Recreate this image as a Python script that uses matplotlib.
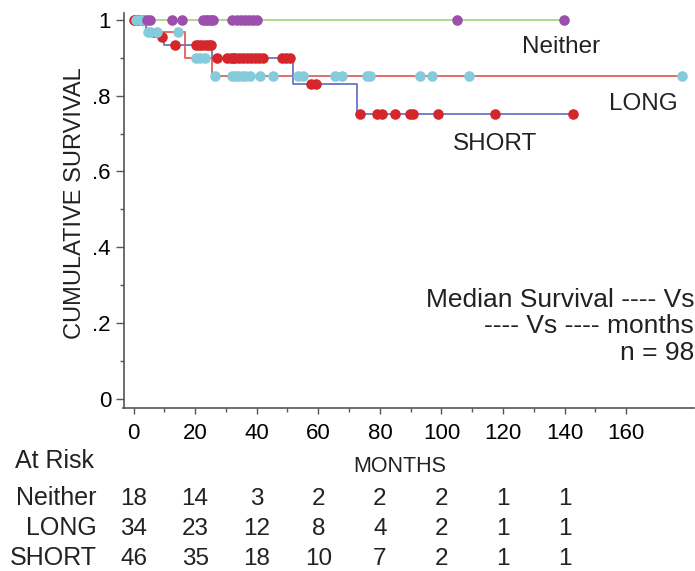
import numpy as np
import matplotlib.pyplot as plt
import matplotlib.transforms as mtransforms

plt.rcParams['font.family'] = ['Liberation Sans', 'DejaVu Sans']

# step curves (months, survival)
neither_t = [0, 139.8]
neither_s = [1.0, 1.0]
long_t = [0, 4.1, 16.8, 25.5, 178.1]
long_s = [1.0, 0.968, 0.899, 0.851, 0.851]
short_t = [0, 4.1, 6.4, 10.0, 25.6, 51.8, 72.6, 142.8]
short_s = [1.0, 0.975, 0.954, 0.934, 0.899, 0.832, 0.751, 0.751]

# censored observations (months)
neither_cens = [4.4, 5.4, 12.6, 15.8, 22.6, 23.4, 24.2, 25.1, 25.9, 32.0, 33.7,
                34.8, 36.3, 37.5, 38.9, 40.2, 104.9, 139.8]
long_cens = [0.8, 2.2, 2.8, 3.8, 4.8, 5.5, 7.6, 14.5, 20.3, 21.5, 23.3, 26.5,
             32.0, 33.0, 34.0, 35.2, 36.3, 37.9, 41.1, 45.4, 53.5, 55.1, 65.5,
             67.7, 75.9, 76.9, 93.1, 97.0, 109.0, 178.1]
short_cens = [0.0, 0.5, 1.0, 1.5, 2.5, 3.0, 9.1, 13.4, 20.2, 21.3, 22.4, 23.5,
              24.5, 25.3, 27.0, 30.5, 31.8, 32.4, 33.0, 34.3, 35.6, 36.9, 38.2,
              39.5, 40.8, 42.0, 48.3, 49.5, 50.8, 57.5, 59.2, 73.6, 79.1, 80.8,
              85.0, 89.8, 90.8, 98.9, 117.4, 142.8]

# at risk table
risk_months = [0, 20, 40, 60, 80, 100, 120, 140]
risk_neither = [18, 14, 3, 2, 2, 2, 1, 1]
risk_long = [34, 23, 12, 8, 4, 2, 1, 1]
risk_short = [46, 35, 18, 10, 7, 2, 1, 1]

yticks = [0, 0.2, 0.4, 0.6, 0.8, 1.0]
ytick_labels = ['0', '.2', '.4', '.6', '.8', '1']
xticks = [0, 20, 40, 60, 80, 100, 120, 140, 160]


def level_at(t, s, x):
    idx = np.searchsorted(t, x, side='right') - 1
    return np.asarray(s)[idx]


W, H = 695, 571
fig = plt.figure(figsize=(W / 100, H / 100), dpi=100)
ax = fig.add_axes([123.5 / W, 1 - 407.7 / H, (694 - 123.5) / W, (407.7 - 13) / H])

# lines
ax.step(neither_t, neither_s, where='post', color='#a9d483', lw=1.3, zorder=2)
ax.step(long_t, long_s, where='post', color='#e4605a', lw=1.3, zorder=2)
ax.step(short_t, short_s, where='post', color='#6a74c4', lw=1.3, zorder=2)

# censor dots
ax.scatter(short_cens, level_at(short_t, short_s, short_cens), s=58,
           color='#d5262b', lw=0, zorder=3, clip_on=False)
ax.scatter(long_cens, level_at(long_t, long_s, long_cens), s=58,
           color='#84cbdc', lw=0, zorder=4, clip_on=False)
ax.scatter(neither_cens, level_at(neither_t, neither_s, neither_cens), s=58,
           color='#9c4fac', lw=0, zorder=5, clip_on=False)

ax.set_xlim(-3.25, 182)
ax.set_ylim(-0.023, 1.018)
ax.set_xticks(xticks)
ax.set_xticks(np.arange(10, 160, 20), minor=True)
ax.set_yticks(yticks)
ax.set_yticklabels(ytick_labels)
ax.set_yticks(np.arange(0.1, 1.0, 0.2), minor=True)

for sp in ['top', 'right']:
    ax.spines[sp].set_visible(False)
for sp in ['left', 'bottom']:
    ax.spines[sp].set_color('#555555')
    ax.spines[sp].set_linewidth(1.2)

ax.tick_params(axis='x', which='major', length=4, width=1, color='#555555',
               labelsize=16, pad=7)
ax.tick_params(axis='x', which='minor', length=3, width=1, color='#555555')
ax.tick_params(axis='y', which='major', length=6, width=1, color='#555555',
               labelsize=16, pad=3)
ax.tick_params(axis='y', which='minor', length=3, width=1, color='#555555')

# curve labels
ax.text(138.9, 0.913, 'Neither', ha='center', va='baseline', fontsize=17.5, color='#222222')
ax.text(165.5, 0.7625, 'LONG', ha='center', va='baseline', fontsize=17.5, color='#222222')
ax.text(117.4, 0.657, 'SHORT', ha='center', va='baseline', fontsize=17.5, color='#222222')

fig.text(75 / W, 1 - 203.5 / H, 'CUMULATIVE SURVIVAL', rotation=90,
         ha='center', va='center', fontsize=17, color='#222222')

fig.text(694 / W, 1 - 306.7 / H, 'Median Survival ---- Vs', ha='right',
         va='baseline', fontsize=19, color='#222222')
fig.text(694 / W, 1 - 333 / H, '---- Vs ---- months', ha='right',
         va='baseline', fontsize=19, color='#222222')
fig.text(694 / W, 1 - 359.5 / H, 'n = 98', ha='right',
         va='baseline', fontsize=19, color='#222222')

# at risk table
fig.text(15 / W, 1 - 468 / H, 'At Risk', ha='left', va='baseline',
         fontsize=18, color='#222222')
fig.text(400 / W, 1 - 472 / H, 'MONTHS', ha='center', va='baseline',
         fontsize=15.5, color='#222222')

trans = mtransforms.blended_transform_factory(ax.transData, fig.transFigure)
rows = [('Neither', risk_neither, 505), ('LONG', risk_long, 535),
        ('SHORT', risk_short, 565)]
for name, counts, base in rows:
    fig.text(97 / W, 1 - base / H, name, ha='right', va='baseline',
             fontsize=18, color='#222222')
    for m, c in zip(risk_months, counts):
        ax.text(m, 1 - base / H, str(c), transform=trans, ha='center',
                va='baseline', fontsize=17.5, color='#222222')

fig.savefig('out.png', dpi=100)
